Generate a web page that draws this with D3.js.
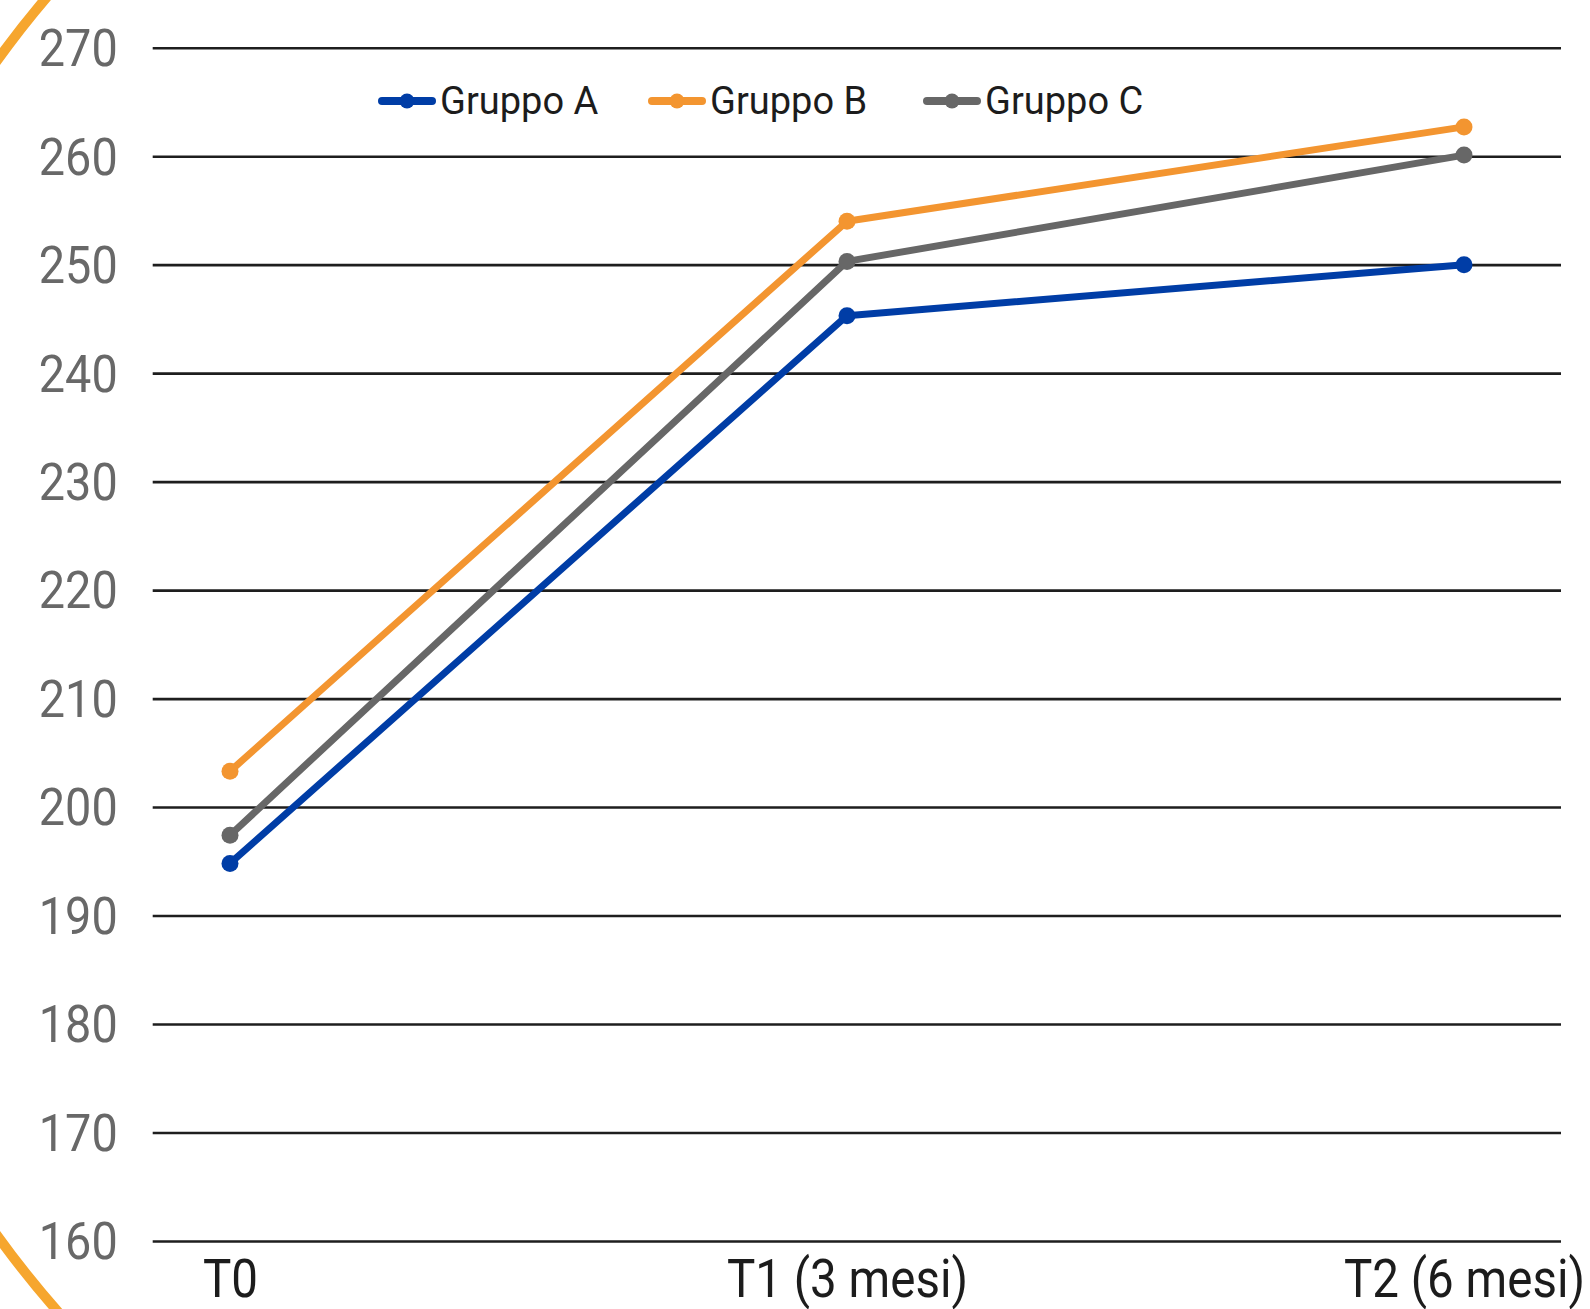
<!DOCTYPE html>
<html>
<head>
<meta charset="utf-8">
<script src="https://cdn.jsdelivr.net/npm/d3@7"></script>
<style>
  html, body { margin: 0; padding: 0; background: #fff; }
  svg { display: block; }
</style>
</head>
<body>
<svg id="chart" width="1590" height="1309"></svg>
<script>
// Time points and group means
const categories = ["T0", "T1 (3 mesi)", "T2 (6 mesi)"];
const gruppoA = [194.8, 245.3, 250.0];
const gruppoB = [203.3, 254.0, 262.7];
const gruppoC = [197.4, 250.3, 260.1];
const seriesNames = ["Gruppo A", "Gruppo B", "Gruppo C"];
const yTicks = [160, 170, 180, 190, 200, 210, 220, 230, 240, 250, 260, 270];

const colors = { "Gruppo A": "#003da6", "Gruppo B": "#f39530", "Gruppo C": "#676767" };
const series = [
  { name: "Gruppo A", values: gruppoA },
  { name: "Gruppo B", values: gruppoB },
  { name: "Gruppo C", values: gruppoC }
];

const svg = d3.select("#chart");
const plotLeft = 152.7, plotRight = 1561, plotTop = 47.7, plotBottom = 1241;

// decorative orange ring, kept to the left edge of the page
svg.append("clipPath").attr("id", "leftEdge")
  .append("rect").attr("x", 0).attr("y", 0).attr("width", 300).attr("height", 1309);
svg.append("circle")
  .attr("clip-path", "url(#leftEdge)")
  .attr("cx", 814).attr("cy", 648).attr("r", 1006)
  .attr("fill", "none").attr("stroke", "#f6a62e").attr("stroke-width", 10);

const x = d3.scalePoint().domain(categories).range([230, 1464]);
const y = d3.scaleLinear().domain([160, 270]).range([plotBottom, plotTop]);

// horizontal grid + y labels
const yAxis = svg.append("g")
  .attr("transform", `translate(${plotLeft},0)`)
  .call(d3.axisLeft(y).tickValues(yTicks).tickSize(-(plotRight - plotLeft)).tickPadding(0).tickFormat(d3.format("d")));
yAxis.select(".domain").remove();
yAxis.selectAll(".tick line").attr("stroke", "#1e1e1e").attr("stroke-width", 2.6);
yAxis.selectAll(".tick text")
  .attr("x", null).attr("dy", null)
  .attr("transform", "translate(-35,0) scale(0.9,1)")
  .attr("dominant-baseline", "central")
  .attr("text-anchor", "end")
  .attr("fill", "#686868")
  .style("font-family", "Roboto, 'DejaVu Sans', sans-serif")
  .style("font-size", "52px");

// x labels
const xAxis = svg.append("g")
  .attr("transform", `translate(0,${plotBottom})`)
  .call(d3.axisBottom(x).tickSize(0).tickPadding(0));
xAxis.select(".domain").remove();
xAxis.selectAll(".tick text")
  .attr("y", null).attr("dy", null)
  .attr("transform", "translate(0,56) scale(0.88,1)")
  .attr("text-anchor", "middle")
  .attr("fill", "#1c1c1c")
  .style("font-family", "Roboto, 'DejaVu Sans', sans-serif")
  .style("font-size", "54px");

// lines and markers
const line = d3.line().x((d, i) => x(categories[i])).y(d => y(d));
const groups = svg.append("g").selectAll("g").data(series).join("g");
groups.append("path")
  .attr("d", d => line(d.values))
  .attr("fill", "none")
  .attr("stroke", d => colors[d.name])
  .attr("stroke-width", 7)
  .attr("stroke-linejoin", "round");
groups.selectAll("circle")
  .data(d => d.values.map((v, i) => ({ v, i, name: d.name })))
  .join("circle")
  .attr("cx", d => x(categories[d.i]))
  .attr("cy", d => y(d.v))
  .attr("r", 8.5)
  .attr("fill", d => colors[d.name]);

// legend
const legendX = [382, 652, 927];
const legendY = 101;
const legend = svg.append("g").selectAll("g").data(seriesNames).join("g")
  .attr("transform", (d, i) => `translate(${legendX[i]},${legendY})`);
legend.append("line")
  .attr("x1", 0).attr("x2", 50).attr("y1", 0).attr("y2", 0)
  .attr("stroke", d => colors[d]).attr("stroke-width", 8).attr("stroke-linecap", "round");
legend.append("circle").attr("cx", 25).attr("cy", 0).attr("r", 7.5).attr("fill", d => colors[d]);
legend.append("text")
  .attr("x", 58).attr("y", 0)
  .attr("dominant-baseline", "central")
  .attr("fill", "#1c1c1c")
  .style("font-family", "Roboto, 'DejaVu Sans', sans-serif")
  .style("font-size", "38px")
  .text(d => d);
</script>
</body>
</html>
